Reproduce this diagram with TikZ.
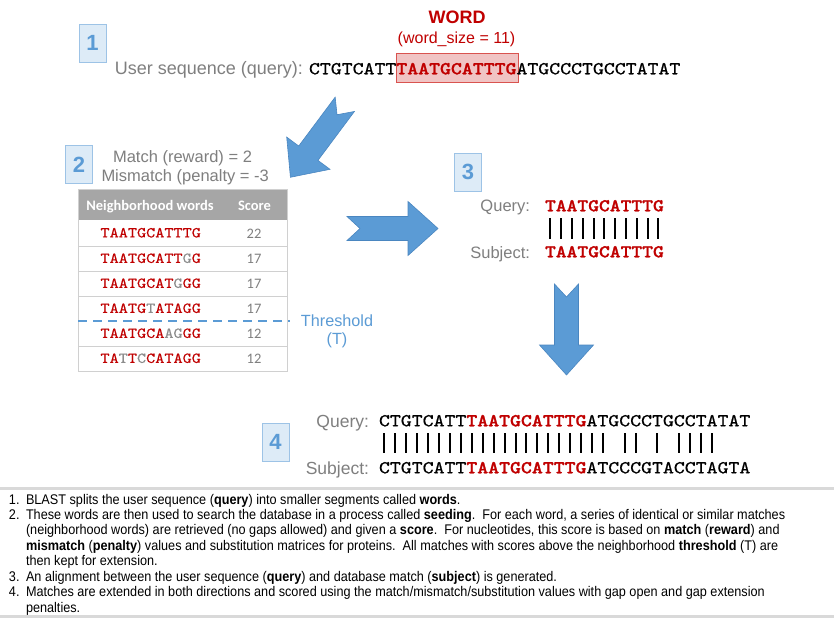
\documentclass[tikz,border=0pt]{standalone}
\usepackage{fontspec}
\setmainfont{Liberation Sans}
\newfontfamily\seqfont{lmmono10-regular.otf}[BoldFont=lmmonolt10-bold.otf, FakeStretch=1.143, UprightFeatures={FakeBold=0.6}, BoldFeatures={FakeBold=1.2}]
\newfontfamily\tabfont{lmmono10-regular.otf}[FakeStretch=1.143, UprightFeatures={FakeBold=0.2}]
\newfontfamily\calfont{Carlito}
\newfontfamily\narrowfont{Liberation Sans}[FakeStretch=0.905]
\definecolor{wred}{HTML}{C00000}
\definecolor{lgray}{HTML}{7F7F7F}
\definecolor{mgray}{HTML}{8C8C8C}
\definecolor{stepblue}{HTML}{5B9BD5}
\definecolor{boxfill}{HTML}{DDEBF7}
\definecolor{boxline}{HTML}{9DC3E6}
\definecolor{arrowline}{HTML}{4A86C0}
\definecolor{hlfill}{HTML}{F0C4C4}
\definecolor{hlline}{HTML}{D9534F}
\definecolor{hdrfill}{HTML}{A6A6A6}
\definecolor{rowline}{HTML}{D0D0D0}
\definecolor{sepline}{HTML}{D9D9D9}
\newcommand{\mis}[1]{\textcolor{mgray}{#1}}
\newcommand{\rb}[1]{\textcolor{wred}{\bfseries #1}}
\tikzset{
  blockarrow/.pic={\path[fill=stepblue,draw=arrowline,line width=0.6pt,line join=miter]
    (0,12)--(61,12)--(61,27)--(91,0)--(61,-27)--(61,-12)--(0,-12)--(13,0)--cycle;}
}
\begin{document}
\begin{tikzpicture}[x=1pt,y=-1pt,
  every node/.style={inner sep=0pt,outer sep=0pt},
  numbox/.style={draw=boxline,fill=boxfill,line width=0.8pt,minimum width=27pt,minimum height=38pt,text=stepblue,font=\fontsize{22}{22}\selectfont\bfseries},
  lbl/.style={text=lgray,font=\fontsize{16.5}{16.5}\selectfont},
  seq/.style={font=\fontsize{18.2}{18.2}\seqfont},
  tword/.style={text=wred,font=\fontsize{15.2}{15.2}\tabfont,anchor=base},
  tscore/.style={text=lgray,font=\fontsize{14.5}{14.5}\calfont,anchor=base},
  thdr/.style={text=white,font=\fontsize{14.5}{14.5}\calfont\bfseries,anchor=base},
  note/.style={font=\fontsize{14}{14}\narrowfont,anchor=base west},
  bar/.style={line width=2pt}
]
\useasboundingbox[fill=white] (0,0) rectangle (834,623);

% ---- step 1
\node[numbox] (s1) at (92.5,43) {1};
\node[fill=hlfill,draw=hlline,line width=0.6pt,minimum width=122pt,minimum height=29pt] (hl) at (457,67.5) {};
\node[anchor=base,text=wred,font=\fontsize{18}{18}\selectfont\bfseries] (word) at (457,23.4) {WORD};
\node[anchor=base,text=wred,font=\fontsize{16}{16}\selectfont] (wsize) at (456.5,43.5) {(word\_size = 11)};
\node[lbl,font=\fontsize{18}{18}\selectfont,anchor=base east] (ulbl) at (303,74.5) {User sequence (query):};
\node[seq,anchor=base west] (useq) at (309,74.3) {CTGTCATT\rb{TAATGCATTTG}ATGCCCTGCCTATAT};

\pic[rotate=-126.7] at (344.8,104.3) {blockarrow};

% ---- step 2
\node[numbox] (s2) at (79,164.5) {2};
\node[lbl,anchor=base] (match) at (182.5,162.9) {Match (reward) = 2};
\node[lbl,anchor=base west] (mismatch) at (101.5,181.9) {Mismatch (penalty = -3};

\fill[hdrfill] (78,189) rectangle (287,220);
\foreach \y in {246,271,296,346} \draw[rowline,line width=0.8pt] (78,\y) -- (287,\y);
\draw[rowline,line width=0.8pt] (78,189) rectangle (287,371);
\draw[stepblue,line width=2.2pt,dash pattern=on 9pt off 6pt] (78,321) -- (290,321);

\node[thdr] (hw) at (150,210.8) {Neighborhood words};
\node[thdr] (hs) at (254.5,210.8) {Score};

\node[tword] (w1) at (150.7,237.4) {TAATGCATTTG};
\node[tword] (w2) at (150.7,262.9) {TAATGCATT\mis{G}G};
\node[tword] (w3) at (150.7,287.9) {TAATGCAT\mis{G}GG};
\node[tword] (w4) at (150.7,312.9) {TAATG\mis{T}ATAGG};
\node[tword] (w5) at (150.7,337.9) {TAATGCA\mis{AG}GG};
\node[tword] (w6) at (150.7,362.9) {TA\mis{T}T\mis{C}CATAGG};

\node[tscore] (c1) at (254,238) {22};
\node[tscore] (c2) at (254,263.5) {17};
\node[tscore] (c3) at (254,288.5) {17};
\node[tscore] (c4) at (254,313.5) {17};
\node[tscore] (c5) at (254,338.5) {12};
\node[tscore] (c6) at (254,363.5) {12};

\node[anchor=base,text=stepblue,font=\fontsize{16.2}{16.2}\selectfont] (thr) at (337,326.8) {Threshold};
\node[anchor=base,text=stepblue,font=\fontsize{16.2}{16.2}\selectfont] (thrT) at (337,344.2) {(T)};

\pic at (347,228.5) {blockarrow};

% ---- step 3
\node[numbox] (s3) at (468,172) {3};
\node[lbl,anchor=base east] (q3l) at (530,211.8) {Query:};
\node[seq,font=\fontsize{18}{18}\seqfont,anchor=base west] (q3) at (545,211.3) {\rb{TAATGCATTTG}};
\foreach \i in {1,...,11} \draw[bar] ({545+(\i-0.5)*10.8},218) -- ++(0,21);
\node[lbl,anchor=base east] (sb3l) at (530,258) {Subject:};
\node[seq,font=\fontsize{18}{18}\seqfont,anchor=base west] (sb3) at (545,257.3) {\rb{TAATGCATTTG}};

\pic[rotate=-90] at (566.5,284) {blockarrow};

% ---- step 4
\node[numbox] (s4) at (275.5,442) {4};
\node[lbl,font=\fontsize{17.5}{17.5}\selectfont,anchor=base east] (q4l) at (369,427.3) {Query:};
\node[seq,anchor=base west] (q4) at (379,426.3) {CTGTCATT\rb{TAATGCATTTG}ATGCCCTGCCTATAT};
\foreach \i in {1,...,21,23,24,26,28,29,30,31} \draw[bar] ({379+(\i-0.5)*10.92},433) -- ++(0,20);
\node[lbl,font=\fontsize{17.5}{17.5}\selectfont,anchor=base east] (sb4l) at (369,474.3) {Subject:};
\node[seq,anchor=base west] (sb4) at (379,473.3) {CTGTCATT\rb{TAATGCATTTG}ATCCCGTACCTAGTA};

% ---- notes
\draw[sepline,line width=3pt] (0,488) -- (834,488);
\draw[sepline,line width=3pt] (0,616) -- (834,616);

\node[note] (n1n) at (9,504.7) {1.};
\node[note] (n1) at (26,504.7) {BLAST splits the user sequence (\textbf{query}) into smaller segments called \textbf{words}.};
\node[note] (n2n) at (9,519.2) {2.};
\node[note] (n2a) at (26,519.2) {These words are then used to search the database in a process called \textbf{seeding}.\ \ For each word, a series of identical or similar matches};
\node[note] (n2b) at (26,534.6) {(neighborhood words) are retrieved (no gaps allowed) and given a \textbf{score}.\ \ For nucleotides, this score is based on \textbf{match} (\textbf{reward}) and};
\node[note] (n2c) at (26,550) {\textbf{mismatch} (\textbf{penalty}) values and substitution matrices for proteins.\ \ All matches with scores above the neighborhood \textbf{threshold} (T) are};
\node[note] (n2d) at (26,565.5) {then kept for extension.};
\node[note] (n3n) at (9,581.4) {3.};
\node[note] (n3) at (26,581.4) {An alignment between the user sequence (\textbf{query}) and database match (\textbf{subject}) is generated.};
\node[note] (n4n) at (9,596.7) {4.};
\node[note] (n4a) at (26,596.7) {Matches are extended in both directions and scored using the match/mismatch/substitution values with gap open and gap extension};
\node[note] (n4b) at (26,612) {penalties.};
\end{tikzpicture}
\end{document}
